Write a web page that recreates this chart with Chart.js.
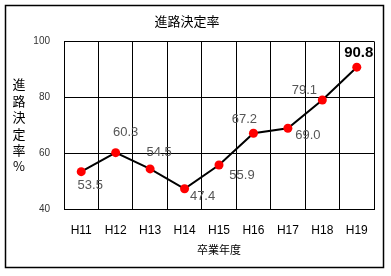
<!DOCTYPE html>
<html>
<head>
<meta charset="utf-8">
<script src="https://cdn.jsdelivr.net/npm/chart.js@4/dist/chart.umd.min.js"></script>
<style>
  html, body { margin: 0; padding: 0; background: #fff; }
  #wrap { position: relative; width: 391px; height: 276px; }
</style>
</head>
<body>
<div id="wrap"><canvas id="c"></canvas></div>
<script>
const categories = ['H11', 'H12', 'H13', 'H14', 'H15', 'H16', 'H17', 'H18', 'H19'];
const rates = [53.5, 60.3, 54.5, 47.4, 55.9, 67.2, 69.0, 79.1, 90.8];
const yTickValues = [40, 60, 80, 100];
const chartTitle = '進路決定率';
const xTitle = '卒業年度';
const yTitle = ['進', '路', '決', '定', '率', '%'];
// label offsets (dx, dy) relative to each point
const labelOffsets = [[9, 14], [10, -20], [9, -16], [18, 8], [23, 10], [-9, -14], [20, 7], [-18, -10], [2, -14]];

const FONT = '"Liberation Sans", Arial, "Noto Sans CJK JP", sans-serif';
const JFONT = '"Noto Sans CJK JP", "Liberation Sans", sans-serif';

const decor = {
  id: 'decor',
  beforeDraw(chart) {
    const ctx = chart.ctx;
    ctx.save();
    ctx.fillStyle = '#fff';
    ctx.fillRect(0, 0, chart.width, chart.height);
    ctx.strokeStyle = '#000';
    ctx.lineWidth = 1.5;
    ctx.strokeRect(5.5, 5.5, chart.width - 13, chart.height - 14);
    ctx.restore();
  },
  afterDraw(chart) {
    const ctx = chart.ctx;
    const area = chart.chartArea;
    ctx.save();
    ctx.fillStyle = '#000';
    ctx.font = '13px ' + JFONT;
    ctx.textAlign = 'center';
    ctx.textBaseline = 'middle';
    const step = 16.4;
    const cy = (area.top + area.bottom) / 2;
    const x0 = area.left - 45;
    yTitle.forEach((ch, i) => {
      ctx.fillText(ch, x0, cy + (i - (yTitle.length - 1) / 2) * step);
    });
    const meta = chart.getDatasetMeta(0);
    meta.data.forEach((pt, i) => {
      const last = i === rates.length - 1;
      ctx.font = last ? 'bold 15px ' + FONT : '13px ' + FONT;
      ctx.fillStyle = last ? '#000' : '#555';
      const off = labelOffsets[i];
      ctx.fillText(rates[i].toFixed(1), pt.x + off[0], pt.y + off[1]);
    });
    ctx.restore();
  }
};

new Chart(document.getElementById('c'), {
  type: 'line',
  data: {
    labels: categories,
    datasets: [{
      data: rates,
      borderColor: '#000',
      borderWidth: 2,
      pointBackgroundColor: '#ff0000',
      pointBorderColor: '#ff0000',
      pointBorderWidth: 0,
      pointRadius: 4.5,
      tension: 0
    }]
  },
  options: {
    responsive: true,
    maintainAspectRatio: false,
    animation: false,
    devicePixelRatio: 1,
    layout: { padding: { left: 0, right: 17, top: 0, bottom: 16 } },
    plugins: {
      legend: { display: false },
      tooltip: { enabled: false },
      title: {
        display: true,
        text: chartTitle,
        color: '#000',
        font: { family: JFONT, size: 13, weight: 'normal' },
        padding: { top: 12.8, bottom: 13 }
      }
    },
    scales: {
      x: {
        offset: true,
        afterFit(scale) { scale.height = 50.5; },
        grid: { color: '#000', lineWidth: 1, offset: true, drawTicks: false },
        border: { color: '#000', width: 1 },
        ticks: { color: '#000', padding: 14, font: { family: FONT, size: 12 } },
        title: {
          display: true,
          text: xTitle,
          color: '#000',
          font: { family: JFONT, size: 11 },
          padding: { top: 5.7, bottom: 4 }
        }
      },
      y: {
        min: 40,
        max: 100,
        afterFit(scale) { scale.width = 64; },
        afterBuildTicks(scale) { scale.ticks = yTickValues.map(v => ({ value: v })); },
        grid: { color: '#000', lineWidth: 1, drawTicks: false },
        border: { color: '#000', width: 1 },
        ticks: { color: '#333', padding: 14, font: { family: FONT, size: 10 } }
      }
    }
  },
  plugins: [decor]
});
</script>
</body>
</html>
